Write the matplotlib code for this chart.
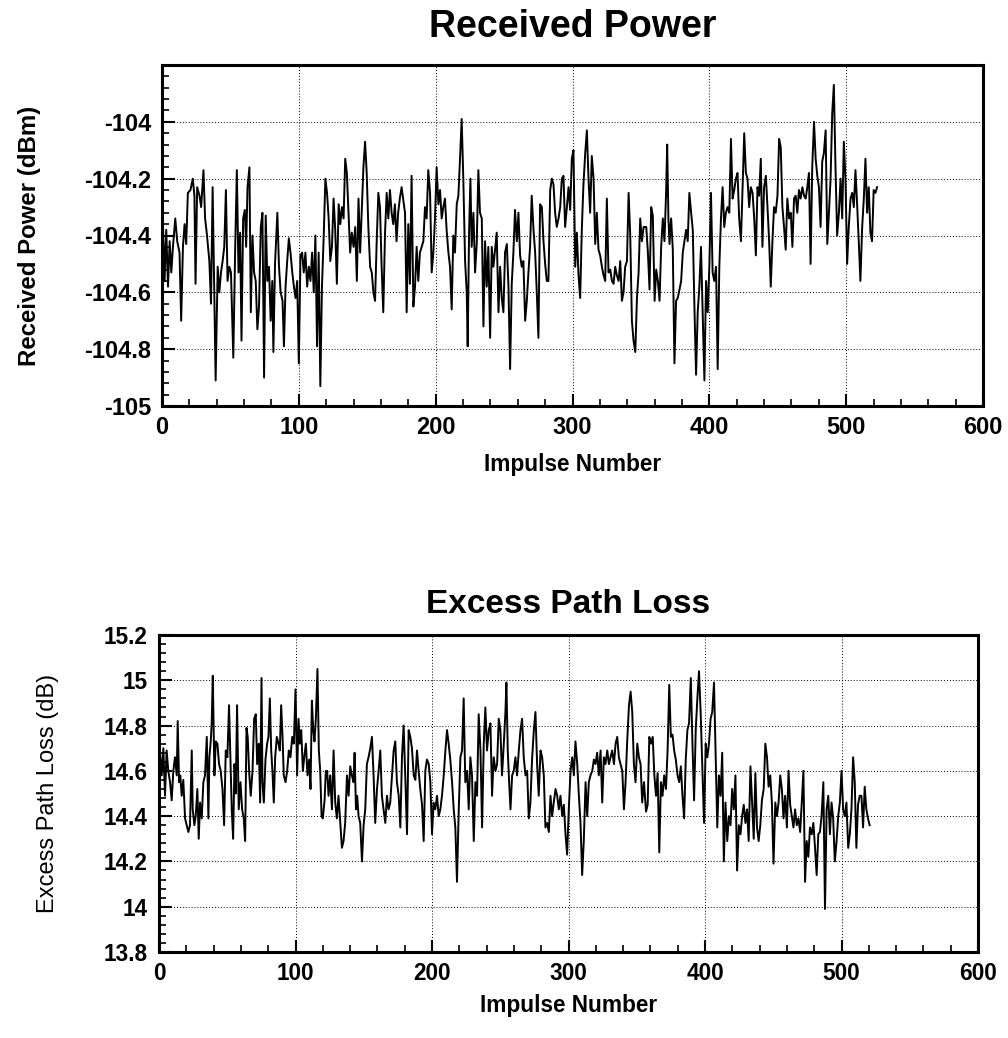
import matplotlib
matplotlib.use("Agg")
import matplotlib.pyplot as plt
from matplotlib.ticker import MultipleLocator

plt.rcParams['font.family'] = ['Liberation Sans', 'DejaVu Sans']
plt.rcParams['axes.unicode_minus'] = False

# received power trace (impulse number, dBm)
rp_impulse = [
    0, 0.7, 1.9, 3.1, 4.4, 5.6, 6.8, 8.0, 9.7, 11.1,
    12.8, 14.0, 15.3, 16.5, 17.7, 18.9, 20.8, 22.5, 23.7, 24.5,
    25.7, 27.4, 28.6, 30.3, 31.5, 32.9, 34.6, 35.8, 37.0, 38.3,
    39.2, 40.7, 41.9, 43.1, 44.3, 45.5, 46.7, 47.9, 49.2, 50.4,
    52.1, 53.5, 54.7, 55.9, 57.1, 58.1, 59.3, 60.5, 61.5, 62.5,
    63.9, 64.9, 66.1, 67.3, 68.5, 69.7, 70.9, 72.2, 73.4, 74.6,
    75.8, 77.0, 78.2, 79.4, 80.6, 81.4, 82.6, 84.3, 85.5, 86.7,
    88.1, 89.1, 90.3, 91.5, 92.7, 93.9, 95.2, 96.4, 97.6, 98.8,
    100.0, 101.2, 102.4, 103.6, 104.8, 106.1, 107.3, 108.5, 109.7, 110.9,
    112.1, 113.3, 114.5, 115.7, 116.9, 118.2, 119.4, 120.6, 121.8, 123.0,
    124.2, 125.4, 126.6, 127.8, 129.1, 130.3, 131.5, 132.7, 133.9, 135.1,
    136.3, 137.5, 138.7, 140.0, 141.2, 142.4, 143.6, 144.8, 146.0, 147.2,
    148.4, 149.6, 150.8, 152.1, 153.3, 154.5, 155.7, 156.9, 158.1, 159.3,
    160.5, 161.7, 163.0, 164.2, 165.4, 166.6, 167.8, 169.0, 170.2, 171.4,
    172.6, 173.8, 175.1,
    177.6, 178.8, 180.0, 181.2, 182.4, 183.7, 184.9, 186.1, 187.3, 188.5,
    189.8, 191.0, 192.2, 193.4, 194.6, 195.9, 197.1, 198.3, 199.5, 200.7,
    202.0, 203.2, 204.4, 205.6, 206.8, 208.0, 209.3, 210.5, 211.7, 212.9,
    214.1, 215.4, 216.6, 217.8, 219.0, 220.2, 221.5, 222.7, 223.4, 224.4,
    225.4, 226.3, 227.6, 228.8, 230.0, 231.2, 232.4, 233.7, 234.9, 236.1,
    237.3, 238.5, 239.8, 241.0, 242.2, 243.4, 244.6, 245.9, 247.1, 248.3,
    249.5, 250.7, 252.0, 253.2, 254.4, 255.6, 256.8, 258.0, 259.3, 260.5,
    261.7, 262.9, 264.1, 265.4, 266.6, 267.8, 269.0, 270.2, 271.5, 272.7,
    273.9, 275.1, 276.3, 277.6, 278.8, 280.0, 281.2, 282.4, 283.7, 284.9,
    286.1, 287.3, 288.5, 289.8, 291.0, 292.2, 293.4, 294.6, 295.9, 297.1,
    298.3, 299.5, 300.7, 302.0, 303.2, 304.4, 305.6, 306.8, 308.0, 309.3,
    310.5, 311.7, 312.9, 314.1, 315.4, 316.6, 317.8, 319.0, 320.2, 321.5,
    322.7, 323.9, 325.1, 326.3, 327.6, 328.8, 330.0, 331.2, 332.4, 333.7,
    334.9, 336.1, 337.3, 338.5, 339.8, 341.0, 342.2, 343.4, 344.6, 345.9,
    347.1, 348.3, 349.5, 350.7, 352.0,
    353.9, 355.1, 356.3, 357.5, 358.7, 360.0, 361.2, 362.4, 363.6, 364.8,
    366.0, 367.2, 368.4, 369.2, 370.1, 370.9, 372.1, 373.3, 374.5, 375.7,
    376.9, 378.2, 379.4, 380.6, 381.8, 383.0, 384.2, 385.4, 386.7, 387.9,
    389.1, 390.3, 391.5, 392.7, 393.9, 395.1, 396.4, 397.6, 398.8, 400.0,
    401.2, 402.4, 403.6, 404.9, 406.1, 407.3, 408.5, 409.7, 410.9, 412.1,
    413.3, 414.6, 415.8, 417.0, 418.2, 419.4, 420.6, 421.8, 423.1, 424.3,
    425.5, 426.7, 427.9, 429.1, 430.3, 431.6, 432.8, 434.0, 435.2, 436.4,
    437.6, 438.8, 440.0, 441.3, 442.5, 443.7, 444.9, 446.1, 447.3, 448.5,
    449.8, 451.0, 452.2, 453.4, 454.6, 455.8, 457.0, 458.3, 459.5, 460.7,
    461.9, 463.1, 464.3, 465.5, 466.7, 468.0, 469.2, 470.4, 471.6, 472.8,
    474.0, 475.2, 476.5, 477.7, 478.9, 480.1, 481.3, 482.5, 483.7, 485.0,
    486.2, 487.4, 488.6, 489.8, 491.0, 492.2, 493.4, 494.7, 495.9, 497.1,
    498.3, 499.5, 500.7, 501.9, 503.2, 504.4, 505.6, 506.8, 508.0, 509.2,
    510.4, 511.7, 512.9, 514.1, 515.3, 516.5, 517.7, 518.9, 520.1, 521.4,
    522.6,
]
rp_dbm = [
    -104.52, -104.36, -104.56, -104.38, -104.58, -104.42, -104.53, -104.44, -104.34, -104.42,
    -104.46, -104.70, -104.44, -104.36, -104.43, -104.25, -104.24, -104.20, -104.26, -104.57,
    -104.23, -104.26, -104.30, -104.17, -104.34, -104.40, -104.49, -104.64, -104.23, -104.62,
    -104.91, -104.51, -104.60, -104.53, -104.49, -104.44, -104.24, -104.56, -104.51, -104.53,
    -104.83, -104.44, -104.17, -104.53, -104.39, -104.77, -104.34, -104.31, -104.44, -104.23,
    -104.16, -104.67, -104.40, -104.53, -104.56, -104.73, -104.65, -104.37, -104.32, -104.90,
    -104.33, -104.56, -104.51, -104.70, -104.56, -104.81, -104.50, -104.32, -104.51, -104.60,
    -104.63, -104.79, -104.58, -104.49, -104.41, -104.46, -104.53, -104.58, -104.62, -104.56,
    -104.85, -104.47, -104.46, -104.53, -104.46, -104.58, -104.51, -104.56, -104.46, -104.60,
    -104.40, -104.79, -104.46, -104.93, -104.58, -104.40, -104.20, -104.25, -104.34, -104.49,
    -104.44, -104.27, -104.38, -104.57, -104.29, -104.36, -104.30, -104.34, -104.13, -104.18,
    -104.32, -104.46, -104.39, -104.44, -104.37, -104.56, -104.27, -104.46, -104.31, -104.16,
    -104.07, -104.18, -104.37, -104.51, -104.53, -104.60, -104.63, -104.42, -104.25, -104.30,
    -104.51, -104.67, -104.39, -104.25, -104.34, -104.24, -104.32, -104.36, -104.29, -104.42,
    -104.32, -104.27, -104.23,
    -104.32, -104.67, -104.36, -104.57, -104.19, -104.65, -104.58, -104.44, -104.56, -104.46,
    -104.44, -104.42, -104.30, -104.34, -104.17, -104.25, -104.53, -104.46, -104.34, -104.16,
    -104.29, -104.24, -104.34, -104.30, -104.27, -104.38, -104.46, -104.51, -104.66, -104.40,
    -104.46, -104.29, -104.26, -104.13, -103.99, -104.20, -104.49, -104.60, -104.79, -104.39,
    -104.20, -104.44, -104.32, -104.53, -104.43, -104.17, -104.32, -104.34, -104.72, -104.42,
    -104.58, -104.44, -104.76, -104.44, -104.51, -104.45, -104.39, -104.67, -104.51, -104.62,
    -104.67, -104.46, -104.43, -104.58, -104.87, -104.57, -104.46, -104.31, -104.42, -104.32,
    -104.47, -104.51, -104.49, -104.70, -104.63, -104.53, -104.44, -104.26, -104.38, -104.46,
    -104.60, -104.76, -104.29, -104.30, -104.42, -104.50, -104.56, -104.56, -104.24, -104.20,
    -104.22, -104.32, -104.37, -104.34, -104.30, -104.20, -104.19, -104.37, -104.30, -104.23,
    -104.31, -104.13, -104.10, -104.51, -104.39, -104.54, -104.62, -104.38, -104.22, -104.11,
    -104.03, -104.20, -104.32, -104.12, -104.20, -104.43, -104.32, -104.45, -104.47, -104.51,
    -104.54, -104.56, -104.27, -104.53, -104.52, -104.56, -104.57, -104.51, -104.54, -104.56,
    -104.49, -104.63, -104.60, -104.51, -104.49, -104.25, -104.40, -104.70, -104.77, -104.81,
    -104.62, -104.53, -104.34, -104.42, -104.37,
    -104.37, -104.46, -104.59, -104.30, -104.33, -104.63, -104.52, -104.56, -104.63, -104.44,
    -104.34, -104.42, -104.25, -104.08, -104.34, -104.43, -104.34, -104.45, -104.85, -104.63,
    -104.62, -104.59, -104.56, -104.46, -104.42, -104.38, -104.42, -104.25, -104.32, -104.38,
    -104.65, -104.89, -104.67, -104.58, -104.44, -104.67, -104.91, -104.56, -104.67, -104.51,
    -104.25, -104.53, -104.56, -104.51, -104.87, -104.51, -104.34, -104.23, -104.37, -104.32,
    -104.30, -104.32, -104.06, -104.27, -104.24, -104.20, -104.18, -104.34, -104.42, -104.23,
    -104.04, -104.18, -104.20, -104.30, -104.23, -104.25, -104.34, -104.47, -104.23, -104.26,
    -104.13, -104.44, -104.23, -104.19, -104.30, -104.42, -104.58, -104.42, -104.30, -104.32,
    -104.26, -104.06, -104.09, -104.30, -104.37, -104.45, -104.27, -104.34, -104.32, -104.44,
    -104.27, -104.26, -104.32, -104.24, -104.27, -104.23, -104.26, -104.27, -104.23, -104.18,
    -104.50, -104.16, -104.00, -104.13, -104.19, -104.23, -104.37, -104.14, -104.11, -104.03,
    -104.43, -104.32, -104.20, -103.97, -103.87, -104.16, -104.40, -104.32, -104.20, -104.34,
    -104.07, -104.20, -104.50, -104.37, -104.27, -104.25, -104.30, -104.17, -104.29, -104.42,
    -104.56, -104.37, -104.27, -104.13, -104.32, -104.23, -104.39, -104.42, -104.24, -104.25,
    -104.23,
]

# excess path loss trace (impulse number, dB)
epl_impulse = [
    0.0, 0.7, 2.0, 3.2, 4.4, 5.6, 6.8, 8.1, 9.3, 10.5,
    11.7, 13.0, 13.7, 14.7, 15.6, 16.6, 17.8, 19.1, 20.3, 21.5,
    22.7, 24.0, 24.7, 25.9, 26.9, 28.1, 29.1, 30.1, 31.3, 32.5,
    33.7, 35.0, 36.2, 36.9, 37.9, 38.6, 39.4, 40.6, 41.6, 42.8,
    44.0, 45.2, 46.5, 47.7, 48.9, 50.1, 51.3, 52.3, 53.3, 54.3,
    55.3, 56.2, 57.2, 58.4, 59.7, 60.9, 62.1, 63.1, 64.1, 65.0,
    66.0, 67.2, 68.5, 69.7, 70.9, 71.9, 73.1, 74.1, 75.1, 75.8,
    76.8, 78.0, 79.2, 80.2, 81.2, 82.2, 83.1, 84.1, 85.1, 86.3,
    87.5, 88.5, 89.5, 90.5, 91.4, 92.7, 93.9, 95.1, 96.3, 97.6,
    98.8, 100.0, 101.2, 102.2, 103.2, 104.2, 105.4, 106.4, 107.6, 108.8,
    110.0, 111.0, 112.0, 113.0, 113.9, 114.9, 116.1, 117.1, 118.1, 119.1,
    120.0, 121.3, 122.2, 123.2, 124.2, 125.4, 126.7, 127.9, 129.1, 130.3,
    131.5, 132.8, 134.0, 135.2, 136.4, 137.7, 138.9, 140.1, 141.3, 142.5,
    143.3, 144.3, 145.2, 146.2, 147.4, 148.7, 149.9, 151.1, 152.3, 153.5,
    154.8, 156.0, 157.2, 158.4, 159.7, 160.9, 162.1, 163.3, 164.5, 165.8,
    167.0, 168.2, 169.4, 170.7, 171.9, 173.1, 174.3, 175.6, 176.8, 178.0,
    179.2,
    180.4, 181.7, 182.9, 184.1, 185.3, 186.6, 187.8, 189.0, 190.2, 191.4,
    192.7, 193.9, 195.1, 196.3, 197.6, 198.8, 200.0, 201.2, 202.4, 203.7,
    204.9, 206.1, 207.3, 208.6, 209.8, 211.0, 212.2, 213.4, 214.7, 215.9,
    217.1, 218.3, 219.6, 220.8, 222.0, 223.2, 224.4, 225.7, 226.9, 228.1,
    229.3, 230.6, 231.8, 233.0, 234.2, 235.5, 236.7, 237.9, 239.1, 240.3,
    241.6, 242.8, 244.0, 245.2, 246.5, 247.7, 248.9, 250.1, 251.3, 252.6,
    253.8, 254.5, 255.5, 256.5, 257.5, 258.7, 259.9, 261.1, 262.3, 263.6,
    264.8, 266.0, 267.2, 268.5, 269.7, 270.9, 272.1, 273.3, 274.6, 275.8,
    277.0, 278.2, 279.5, 280.7, 281.9, 283.1, 284.4, 285.6, 286.8, 288.0,
    289.2, 290.5, 291.7, 292.9, 294.1, 295.4, 296.6, 297.8, 299.0, 300.2,
    301.5, 302.7, 303.9, 305.1, 306.4, 307.6, 308.8, 310.0, 311.2, 312.5,
    313.7, 314.9, 316.1, 317.4, 318.6, 319.8, 321.0, 322.2, 323.5, 324.7,
    325.9, 327.1, 328.4, 329.6, 330.8, 332.0, 333.3, 334.5, 335.7, 336.9,
    338.1, 339.4, 340.6, 341.8, 343.0, 344.3, 345.5, 346.7, 347.9, 349.1,
    350.4, 351.6, 352.8, 354.0, 355.3,
    356.8, 358.0, 359.2, 360.4, 361.7, 362.9, 364.1, 365.3, 366.5, 367.7,
    368.9, 370.1, 371.4, 372.6, 373.8, 375.0, 376.2, 377.4, 378.6, 379.9,
    381.1, 382.3, 383.5, 384.7, 385.9, 387.1, 388.3, 389.6, 390.8, 392.0,
    393.2, 394.4, 395.6, 396.8, 398.1, 399.3, 400.5, 401.7, 402.9, 404.1,
    405.3, 406.6, 407.8, 409.0, 410.2, 411.4, 412.6, 413.8, 415.0, 416.3,
    417.5, 418.7, 419.9, 421.1, 422.3, 423.5, 424.8, 426.0, 427.2, 428.4,
    429.6, 430.8, 432.0, 433.3, 434.5, 435.7, 436.9, 438.1, 439.3, 440.5,
    441.7, 443.0, 444.2, 445.4, 446.6, 447.8, 449.0, 450.2, 451.5, 452.7,
    453.9, 455.1, 456.3, 457.5, 458.7, 460.0, 461.2, 462.4, 463.6, 464.8,
    466.0, 467.2, 468.4, 469.7, 470.9, 472.1, 473.3, 474.5, 475.7, 476.9,
    478.2, 479.4, 480.6, 481.8, 483.0, 484.2, 485.4, 486.7, 487.9, 489.1,
    490.3, 491.5, 492.7, 493.9, 495.1, 496.4, 497.6, 498.8, 500.0, 501.2,
    502.4, 503.6, 504.9, 506.1, 507.3, 508.5, 509.7, 510.9, 512.1, 513.3,
    514.6, 515.8, 517.0, 518.2, 519.4, 520.6,
]
epl_db = [
    14.65, 14.69, 14.58, 14.70, 14.49, 14.69, 14.60, 14.55, 14.47, 14.60,
    14.66, 14.58, 14.82, 14.55, 14.58, 14.49, 14.56, 14.39, 14.36, 14.33,
    14.36, 14.69, 14.43, 14.36, 14.40, 14.52, 14.30, 14.46, 14.39, 14.55,
    14.58, 14.75, 14.39, 14.66, 14.73, 14.81, 15.02, 14.58, 14.73, 14.72,
    14.63, 14.60, 14.52, 14.36, 14.69, 14.66, 14.89, 14.66, 14.43, 14.30,
    14.63, 14.50, 14.89, 14.43, 14.55, 14.43, 14.39, 14.29, 14.79, 14.75,
    14.60, 14.49, 14.60, 14.83, 14.85, 14.63, 14.72, 14.46, 15.01, 14.55,
    14.46, 14.65, 14.72, 14.75, 14.92, 14.69, 14.60, 14.46, 14.66, 14.75,
    14.72, 14.69, 14.89, 14.75, 14.58, 14.55, 14.60, 14.69, 14.66, 14.75,
    14.72, 14.96, 14.58, 14.83, 14.72, 14.78, 14.60, 14.66, 14.72, 14.58,
    14.65, 14.52, 14.91, 14.78, 14.73, 14.83, 15.05, 14.69, 14.60, 14.40,
    14.39, 14.47, 14.60, 14.60, 14.49, 14.58, 14.43, 14.69, 14.46, 14.39,
    14.49, 14.37, 14.26, 14.29, 14.37, 14.58, 14.49, 14.62, 14.58, 14.55,
    14.68, 14.43, 14.49, 14.40, 14.37, 14.20, 14.36, 14.43, 14.63, 14.66,
    14.70, 14.75, 14.58, 14.37, 14.52, 14.60, 14.69, 14.49, 14.43, 14.37,
    14.49, 14.43, 14.46, 14.58, 14.69, 14.73, 14.55, 14.49, 14.35, 14.66,
    14.80,
    14.58, 14.32, 14.78, 14.75, 14.70, 14.58, 14.56, 14.69, 14.60, 14.52,
    14.45, 14.29, 14.60, 14.65, 14.63, 14.55, 14.32, 14.46, 14.43, 14.49,
    14.40, 14.43, 14.49, 14.58, 14.69, 14.78, 14.72, 14.65, 14.55, 14.43,
    14.35, 14.11, 14.43, 14.66, 14.69, 14.92, 14.55, 14.60, 14.43, 14.66,
    14.58, 14.29, 14.55, 14.49, 14.85, 14.69, 14.35, 14.72, 14.88, 14.69,
    14.78, 14.81, 14.49, 14.66, 14.60, 14.63, 14.83, 14.78, 14.58, 14.72,
    14.86, 14.99, 14.69, 14.55, 14.43, 14.58, 14.60, 14.66, 14.58, 14.69,
    14.78, 14.83, 14.66, 14.58, 14.60, 14.39, 14.46, 14.65, 14.78, 14.86,
    14.63, 14.49, 14.69, 14.66, 14.58, 14.35, 14.37, 14.33, 14.49, 14.40,
    14.46, 14.52, 14.49, 14.43, 14.49, 14.40, 14.45, 14.32, 14.23, 14.43,
    14.60, 14.66, 14.58, 14.73, 14.63, 14.49, 14.37, 14.14, 14.29, 14.55,
    14.40, 14.55, 14.58, 14.60, 14.65, 14.63, 14.68, 14.58, 14.69, 14.46,
    14.66, 14.63, 14.69, 14.63, 14.66, 14.69, 14.63, 14.72, 14.75, 14.66,
    14.63, 14.60, 14.43, 14.55, 14.73, 14.89, 14.95, 14.86, 14.63, 14.55,
    14.72, 14.66, 14.63, 14.46, 14.55,
    14.42, 14.45, 14.75, 14.72, 14.75, 14.58, 14.49, 14.59, 14.24, 14.55,
    14.49, 14.58, 14.52, 14.69, 14.98, 14.75, 14.76, 14.69, 14.65, 14.58,
    14.55, 14.62, 14.49, 14.39, 14.65, 14.78, 14.81, 15.01, 14.72, 14.47,
    14.78, 14.92, 15.04, 14.86, 14.60, 14.37, 14.72, 14.66, 14.72, 14.83,
    14.86, 14.99, 14.66, 14.35, 14.58, 14.49, 14.68, 14.20, 14.46, 14.29,
    14.40, 14.36, 14.52, 14.43, 14.58, 14.16, 14.36, 14.32, 14.40, 14.45,
    14.37, 14.43, 14.29, 14.62, 14.46, 14.30, 14.59, 14.35, 14.29, 14.36,
    14.47, 14.52, 14.72, 14.66, 14.53, 14.58, 14.46, 14.19, 14.46, 14.40,
    14.46, 14.58, 14.52, 14.39, 14.49, 14.35, 14.60, 14.45, 14.40, 14.35,
    14.43, 14.36, 14.39, 14.33, 14.46, 14.60, 14.11, 14.29, 14.22, 14.35,
    14.32, 14.37, 14.26, 14.14, 14.32, 14.33, 14.40, 14.55, 13.99, 14.43,
    14.49, 14.32, 14.46, 14.39, 14.20, 14.29, 14.40, 14.46, 14.60, 14.43,
    14.40, 14.46, 14.26, 14.32, 14.43, 14.66, 14.55, 14.26, 14.45, 14.49,
    14.49, 14.35, 14.53, 14.43, 14.39, 14.36,
]

x_ticks = [0, 100, 200, 300, 400, 500, 600]
rp_ticks = [-105, -104.8, -104.6, -104.4, -104.2, -104]
epl_ticks = [13.8, 14, 14.2, 14.4, 14.6, 14.8, 15, 15.2]


def style_axes(ax, yticks, ylim, labelsize):
    ax.set_xlim(0, 600)
    ax.set_ylim(*ylim)
    ax.set_xticks(x_ticks)
    ax.set_xticklabels([str(t) for t in x_ticks], fontweight='bold')
    ax.set_yticks(yticks)
    ax.set_yticklabels(['%g' % t for t in yticks], fontweight='bold')
    ax.xaxis.set_minor_locator(MultipleLocator(20))
    ax.yaxis.set_minor_locator(MultipleLocator(0.04))
    ax.tick_params(which='both', direction='in', top=False, right=False)
    ax.tick_params(which='major', length=9, width=1.5, labelsize=labelsize)
    ax.tick_params(which='minor', length=5, width=1.2)
    ax.tick_params(axis='y', pad=8)
    ax.tick_params(axis='x', pad=7)
    for s in ax.spines.values():
        s.set_linewidth(2.2)
    ax.grid(True, which='major', linestyle=(0, (1, 2)), linewidth=0.7, color='black')


fig = plt.figure(figsize=(10.08, 10.38), dpi=100)

ax1 = fig.add_axes([162 / 1008, 1 - 406 / 1038, (983 - 162) / 1008, (406 - 65) / 1038])
ax1.plot(rp_impulse, rp_dbm, color='black', lw=1.4)
style_axes(ax1, rp_ticks, (-105, -103.8), 17)
ax1.set_title('Received Power', fontsize=27, fontweight='bold', pad=20)
ax1.set_xlabel('Impulse Number', fontsize=16.3, fontweight='bold', labelpad=10)
ax1.set_ylabel('Received Power (dBm)', fontsize=17.3, fontweight='bold')
ax1.yaxis.set_label_coords(-0.147, 0.5)

ax2 = fig.add_axes([159 / 1008, 1 - 952 / 1038, (978 - 159) / 1008, (952 - 635) / 1038])
ax2.plot(epl_impulse, epl_db, color='black', lw=1.4)
style_axes(ax2, epl_ticks, (13.8, 15.2), 16.3)
ax2.set_title('Excess Path Loss', fontsize=24, fontweight='bold', pad=16)
ax2.set_xlabel('Impulse Number', fontsize=16.3, fontweight='bold', labelpad=7)
ax2.set_ylabel('Excess Path Loss (dB)', fontsize=17)
ax2.yaxis.set_label_coords(-0.122, 0.5)

fig.savefig('out.png', dpi=100)
